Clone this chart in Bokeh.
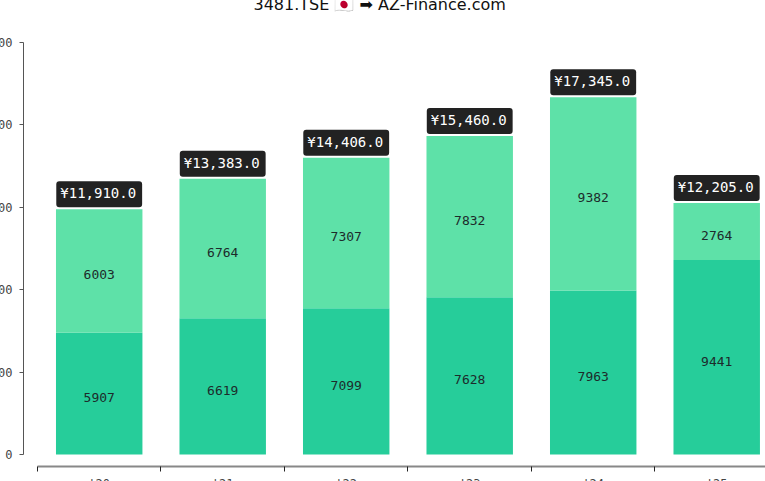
from bokeh.plotting import figure
from bokeh.models import ColumnDataSource, Range1d, LinearAxis, FixedTicker, Label
from bokeh.core.properties import value
from bokeh.embed import file_html
from bokeh.resources import INLINE

years = ["'20", "'21", "'22", "'23", "'24", "'25"]
base = [5907, 6619, 7099, 7628, 7963, 9441]
extra = [6003, 6764, 7307, 7832, 9382, 2764]
totals = [11910, 13383, 14406, 15460, 17345, 12205]
y_ticks = [0, 4000, 8000, 12000, 16000, 20000]

C_BASE = "#26cd9a"
C_EXTRA = "#5ee1a8"
MONO = "DejaVu Sans Mono"

xs = [i + 0.5 for i in range(len(years))]
src = ColumnDataSource(dict(
    x=xs,
    base=base,
    extra=extra,
    base_mid=[b / 2 for b in base],
    extra_mid=[b + e / 2 for b, e in zip(base, extra)],
    base_lbl=[str(v) for v in base],
    extra_lbl=[str(v) for v in extra],
))

p = figure(frame_width=742, frame_height=424,
           x_range=Range1d(-0.113, 5.895), y_range=Range1d(-583, 20000),
           output_backend="svg", toolbar_location=None,
           x_axis_location=None, y_axis_location=None,
           min_border_left=60, min_border_right=0, min_border_top=80, min_border_bottom=0)
p.margin = (-38, 0, 0, -37)
p.outline_line_color = None
p.background_fill_color = "white"
p.border_fill_color = "white"
p.grid.visible = False

p.title.text = "3481.TSE 🇯🇵 ➡ AZ-Finance.com"
p.title.align = "left"
p.title.text_font = "DejaVu Sans"
p.title.text_font_size = "16px"
p.title.text_font_style = "normal"
p.title.text_color = "#111111"
p.title.offset = 230
p.title.standoff = 58

p.vbar_stack(["base", "extra"], x="x", width=0.7, color=[C_BASE, C_EXTRA],
             line_color=None, source=src)

for col_y, col_t in (("base_mid", "base_lbl"), ("extra_mid", "extra_lbl")):
    p.text(x="x", y=col_y, text=col_t, source=src, text_align="center",
           text_baseline="middle", y_offset=4, text_font=value(MONO),
           text_font_size="13px", text_color="#1d2b2b")

for xi, t in zip(xs, totals):
    p.add_layout(Label(x=xi, y=t, text=f"¥{t:,.1f}", y_offset=2,
                       text_align="center", text_baseline="bottom",
                       text_font=MONO, text_font_size="14px", text_color="white",
                       background_fill_color="#222222", border_radius=3,
                       padding=(4, 6, 4, 6)))

yax = LinearAxis(ticker=FixedTicker(ticks=y_ticks), bounds=(0, 20000),
                 axis_line_color="#555555", major_tick_out=4, major_tick_in=0,
                 major_tick_line_color="#555555", minor_tick_line_color=None,
                 major_label_text_font=MONO, major_label_text_font_size="12px",
                 major_label_text_color="#444444", major_label_standoff=7)
p.add_layout(yax, "left")

xax = LinearAxis(ticker=FixedTicker(ticks=xs, minor_ticks=list(range(len(years) + 1))),
                 major_label_overrides={xi: yr for xi, yr in zip(xs, years)},
                 bounds=(0, len(years)),
                 axis_line_color="#888888", axis_line_width=2,
                 major_tick_line_color=None, major_tick_out=5, major_tick_in=0,
                 minor_tick_out=5, minor_tick_in=0, minor_tick_line_color="#222222",
                 major_label_text_font=MONO, major_label_text_font_size="12px",
                 major_label_text_color="#444444", major_label_standoff=5)
p.add_layout(xax, "below")

open("out.html", "w").write(file_html(p, INLINE))
